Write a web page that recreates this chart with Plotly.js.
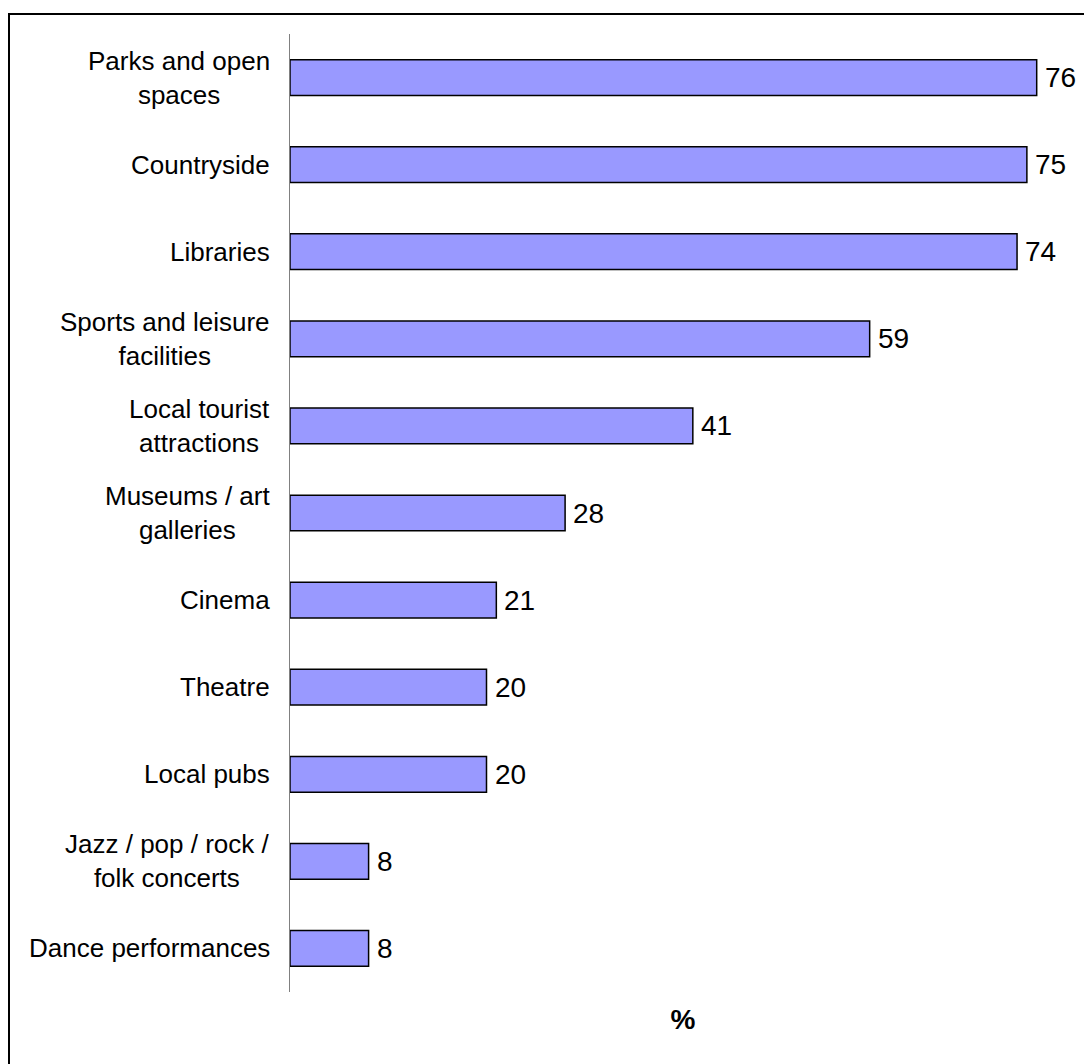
<!DOCTYPE html>
<html>
<head>
<meta charset="utf-8">
<script src="https://cdn.plot.ly/plotly-3.0.1.min.js"></script>
<style>
  html, body { margin: 0; padding: 0; background: #ffffff; }
  #chart { width: 1084px; height: 1064px; }
</style>
</head>
<body>
<div id="chart"></div>
<script>
// Data (top to bottom as displayed)
const categories = [
  "Parks and open<br>spaces",
  "Countryside",
  "Libraries",
  "Sports and leisure<br>facilities",
  "Local tourist<br>attractions",
  "Museums / art<br>galleries",
  "Cinema",
  "Theatre",
  "Local pubs",
  "Jazz / pop / rock /<br>folk concerts",
  "Dance performances"
];
const values = [76, 75, 74, 59, 41, 28, 21, 20, 20, 8, 8];
const valueLabels = ["76", "75", "74", "59", "41", "28", "21", "20", "20", "8", "8"];
const axisTitle = "%";

const FONT = "Liberation Sans, Arial, Helvetica, sans-serif";

const trace = {
  type: "bar",
  orientation: "h",
  y: categories,
  x: values,
  width: 0.41,
  marker: { color: "#9999FF", line: { color: "#000000", width: 1.5 } },
  hoverinfo: "skip"
};

const annotations = [];
categories.forEach((c, i) => {
  annotations.push({
    xref: "paper", yref: "y", x: 0, y: c,
    text: c, showarrow: false, xanchor: "right", yanchor: "middle",
    align: "center", xshift: -18,
    font: { family: FONT, size: 26, color: "#000000" }
  });
  annotations.push({
    xref: "x", yref: "y", x: values[i], y: c,
    text: valueLabels[i], showarrow: false, xanchor: "left", yanchor: "middle",
    xshift: 6,
    font: { family: FONT, size: 28, color: "#000000" }
  });
});

const L = 290, T = 34, B = 72, R = 8, W = 1084, H = 1064;
const pw = W - L - R, ph = H - T - B;
const px = (p) => (p - L) / pw;
const py = (p) => (H - B - p) / ph;

const layout = {
  width: W, height: H,
  margin: { l: L, r: R, t: T, b: B, pad: 0 },
  paper_bgcolor: "#ffffff",
  plot_bgcolor: "#ffffff",
  showlegend: false,
  font: { family: FONT, color: "#000000" },
  xaxis: {
    range: [0, 80],
    showgrid: false, zeroline: false, showline: false,
    showticklabels: false, ticks: "",
    fixedrange: true,
    title: { text: axisTitle, font: { family: FONT, size: 28, weight: "bold", color: "#000000" }, standoff: 17 }
  },
  yaxis: {
    type: "category",
    autorange: false,
    range: [categories.length - 0.5, -0.5],
    categoryorder: "array", categoryarray: categories,
    showgrid: false, zeroline: false,
    showline: true, linecolor: "#808080", linewidth: 1,
    showticklabels: false, ticks: "",
    fixedrange: true
  },
  annotations: annotations,
  shapes: [
    { type: "line", xref: "paper", yref: "paper", x0: px(9), x1: px(1200), y0: py(14), y1: py(14),
      line: { color: "#000000", width: 2 } },
    { type: "line", xref: "paper", yref: "paper", x0: px(9), x1: px(9), y0: py(13), y1: py(1200),
      line: { color: "#000000", width: 2 } }
  ]
};

Plotly.newPlot("chart", [trace], layout, { displayModeBar: false, staticPlot: true });
</script>
</body>
</html>
